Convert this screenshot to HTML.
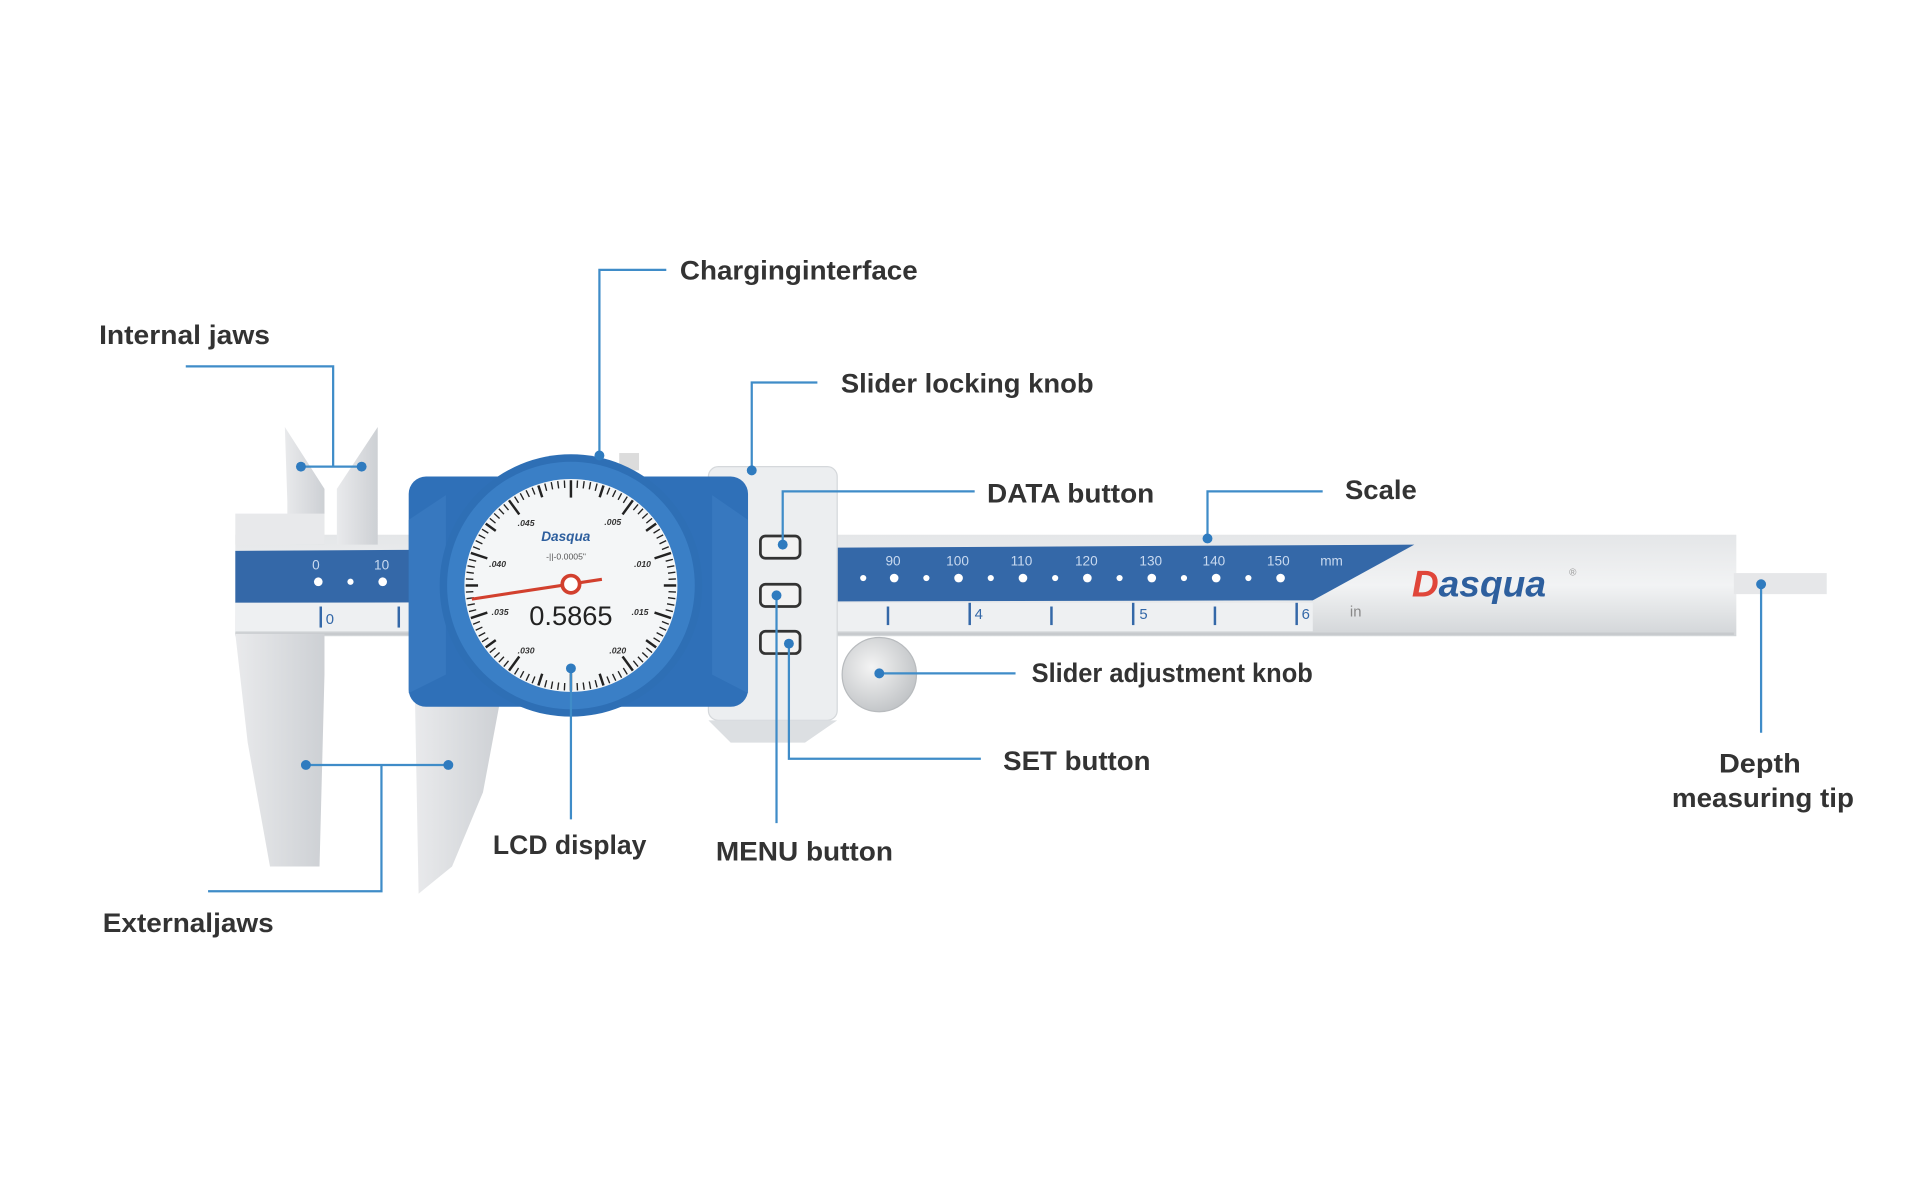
<!DOCTYPE html>
<html><head><meta charset="utf-8"><style>
html,body{margin:0;padding:0;background:#fff;width:1932px;height:1192px;overflow:hidden}
svg{display:block}
text{font-family:"Liberation Sans","DejaVu Sans",sans-serif}
.lb{font-size:22px;font-weight:bold;fill:#333}
.ln{stroke:#3f8cc8;stroke-width:1.8;fill:none}
.dt{fill:#2f7bbf}
</style></head><body>
<svg width="1932" height="1192" viewBox="0 0 1560 963" preserveAspectRatio="none">
<defs>
<linearGradient id="steel" x1="0" y1="0" x2="0" y2="1"><stop offset="0" stop-color="#e4e6e8"/><stop offset="0.5" stop-color="#f2f3f4"/><stop offset="1" stop-color="#d2d5d8"/></linearGradient>
<linearGradient id="jaw" x1="0" y1="0" x2="1" y2="0"><stop offset="0" stop-color="#e9eaec"/><stop offset="1" stop-color="#cdd0d4"/></linearGradient>
<radialGradient id="knob" cx="0.4" cy="0.4" r="0.7"><stop offset="0" stop-color="#f4f4f4"/><stop offset="1" stop-color="#bcbfc2"/></radialGradient>
</defs>
<!-- beam -->
<rect x="190" y="432" width="1212" height="82" fill="url(#steel)"/>
<rect x="1400" y="463" width="75" height="17" fill="#e6e7e9"/>
<polygon points="190,445 1142,440 1060,485 190,487" fill="#3468a8"/>
<rect x="190" y="487" width="870" height="23" fill="#eef0f2"/>
<line x1="190" y1="512" x2="1400" y2="512" stroke="#c7cacd" stroke-width="2"/>
<text x="1140" y="482" font-size="30" font-style="italic" font-weight="bold" fill="#e0463a">D<tspan fill="#2e5f9e">asqua</tspan></text>
<text x="1267" y="465" font-size="8" fill="#999">®</text>
<g font-size="11" fill="#c9daf0">
<text x="715" y="457">90</text><text x="764" y="457">100</text><text x="816" y="457">110</text><text x="868" y="457">120</text><text x="920" y="457">130</text><text x="971" y="457">140</text><text x="1023" y="457">150</text><text x="1066" y="457">mm</text>
<text x="252" y="460">0</text><text x="302" y="460">10</text>
</g>
<g fill="#fff">
<circle cx="697" cy="467" r="2.5"/><circle cx="722" cy="467" r="3.5"/><circle cx="748" cy="467" r="2.5"/><circle cx="774" cy="467" r="3.5"/><circle cx="800" cy="467" r="2.5"/><circle cx="826" cy="467" r="3.5"/><circle cx="852" cy="467" r="2.5"/><circle cx="878" cy="467" r="3.5"/><circle cx="904" cy="467" r="2.5"/><circle cx="930" cy="467" r="3.5"/><circle cx="956" cy="467" r="2.5"/><circle cx="982" cy="467" r="3.5"/><circle cx="1008" cy="467" r="2.5"/><circle cx="1034" cy="467" r="3.5"/>
<circle cx="257" cy="470" r="3.5"/><circle cx="283" cy="470" r="2.5"/><circle cx="309" cy="470" r="3.5"/>
</g>
<g stroke="#3468a8" stroke-width="2">
<line x1="717" y1="490" x2="717" y2="505"/><line x1="783" y1="487" x2="783" y2="505"/><line x1="849" y1="490" x2="849" y2="505"/><line x1="915" y1="487" x2="915" y2="505"/><line x1="981" y1="490" x2="981" y2="505"/><line x1="1047" y1="487" x2="1047" y2="505"/><line x1="259" y1="490" x2="259" y2="507"/><line x1="322" y1="490" x2="322" y2="507"/>
</g>
<g font-size="12" fill="#3468a8"><text x="787" y="500">4</text><text x="920" y="500">5</text><text x="1051" y="500">6</text><text x="1090" y="498" fill="#888">in</text><text x="263" y="504">0</text></g>
<!-- fixed jaw -->
<polygon points="230,345 262,395 262,440 232,440 232,405" fill="url(#jaw)"/>
<polygon points="190,415 262,415 262,440 190,440" fill="#e8e9eb"/>
<polygon points="190,512 262,512 262,545 258,700 218,700 200,600" fill="url(#jaw)"/>
<!-- moving jaw -->
<polygon points="305,345 272,395 272,440 305,440" fill="url(#jaw)"/>
<polygon points="335,560 405,560 390,640 365,700 338,722" fill="url(#jaw)"/>
<!-- slider right part -->
<rect x="572" y="377" width="104" height="205" rx="8" fill="#eceef0" stroke="#d5d8db"/>
<polygon points="572,582 676,582 650,600 590,600" fill="#dcdfe2"/>
<g fill="#f2f2f2" stroke="#333" stroke-width="2.2">
<rect x="614" y="433" width="32" height="18" rx="4"/><rect x="614" y="472" width="32" height="18" rx="4"/><rect x="614" y="510" width="32" height="18" rx="4"/>
</g>
<!-- knob -->
<circle cx="710" cy="545" r="30" fill="url(#knob)" stroke="#b8bbbe"/>
<!-- dial body -->
<rect x="500" y="366" width="16" height="14" fill="#dcdcdc"/>
<rect x="330" y="385" width="274" height="186" rx="14" fill="#2f70b8"/>
<polygon points="330,420 360,400 360,545 330,560" fill="#3a7cc2" opacity="0.7"/>
<polygon points="604,420 575,400 575,545 604,560" fill="#3a7cc2" opacity="0.7"/>
<circle cx="461" cy="473" r="106" fill="#2e6fb5"/>
<circle cx="461" cy="473" r="100" fill="#3a7fc6"/>
<circle cx="461" cy="473" r="86" fill="#f4f6f7"/>
<g id="ticks" stroke="#222"></g>
<g font-size="7" font-weight="bold" fill="#333" font-style="italic">
<text x="418" y="425">.045</text><text x="488" y="424">.005</text><text x="395" y="458">.040</text><text x="512" y="458">.010</text><text x="397" y="497">.035</text><text x="510" y="497">.015</text><text x="418" y="528">.030</text><text x="492" y="528">.020</text>
</g>
<text x="437" y="437" font-size="11" font-weight="bold" font-style="italic" fill="#2e5f9e">Dasqua</text>
<text x="441" y="452" font-size="7" fill="#555">-||-0.0005"</text>
<text x="461" y="505" font-size="22" fill="#222" text-anchor="middle">0.5865</text>
<line x1="381" y1="484" x2="486" y2="468" stroke="#d2402e" stroke-width="2.5"/>
<circle cx="461" cy="472" r="7" fill="#fff" stroke="#d2402e" stroke-width="3"/>
<!-- leaders -->
<g class="ln">
<polyline points="150,296 269,296 269,377"/><line x1="243" y1="377" x2="292" y2="377"/>
<polyline points="538,218 484,218 484,368"/>
<polyline points="660,309 607,309 607,380"/>
<polyline points="787,397 632,397 632,440"/>
<polyline points="1068,397 975,397 975,435"/>
<line x1="820" y1="544" x2="710" y2="544"/>
<polyline points="792,613 637,613 637,520"/>
<line x1="627" y1="665" x2="627" y2="481"/>
<line x1="461" y1="662" x2="461" y2="540"/>
<polyline points="168,720 308,720 308,618"/><line x1="247" y1="618" x2="362" y2="618"/>
<line x1="1422" y1="592" x2="1422" y2="472"/>
</g>
<g class="dt">
<circle cx="243" cy="377" r="4"/><circle cx="292" cy="377" r="4"/><circle cx="484" cy="368" r="4"/><circle cx="607" cy="380" r="4"/><circle cx="632" cy="440" r="4"/><circle cx="975" cy="435" r="4"/><circle cx="710" cy="544" r="4"/><circle cx="637" cy="520" r="4"/><circle cx="627" cy="481" r="4"/><circle cx="461" cy="540" r="4"/><circle cx="247" cy="618" r="4"/><circle cx="362" cy="618" r="4"/><circle cx="1422" cy="472" r="4"/>
</g>
<!-- labels -->
<text class="lb" x="80" y="278" textLength="138" lengthAdjust="spacingAndGlyphs">Internal jaws</text>
<text class="lb" x="549" y="226" textLength="192" lengthAdjust="spacingAndGlyphs">Charginginterface</text>
<text class="lb" x="679" y="317" textLength="204" lengthAdjust="spacingAndGlyphs">Slider locking knob</text>
<text class="lb" x="797" y="406" textLength="135" lengthAdjust="spacingAndGlyphs">DATA button</text>
<text class="lb" x="1086" y="403" textLength="58" lengthAdjust="spacingAndGlyphs">Scale</text>
<text class="lb" x="833" y="551" textLength="227" lengthAdjust="spacingAndGlyphs">Slider adjustment knob</text>
<text class="lb" x="810" y="622" textLength="119" lengthAdjust="spacingAndGlyphs">SET button</text>
<text class="lb" x="1388" y="624" textLength="66" lengthAdjust="spacingAndGlyphs">Depth</text>
<text class="lb" x="1350" y="652" textLength="147" lengthAdjust="spacingAndGlyphs">measuring tip</text>
<text class="lb" x="578" y="695" textLength="143" lengthAdjust="spacingAndGlyphs">MENU button</text>
<text class="lb" x="398" y="690" textLength="124" lengthAdjust="spacingAndGlyphs">LCD display</text>
<text class="lb" x="83" y="753" textLength="138" lengthAdjust="spacingAndGlyphs">Externaljaws</text>
</svg>
<script>
var g=document.getElementById('ticks'),s='';
for(var i=0;i<100;i++){var a=i*Math.PI*2/100,l=(i%10==0)?14:(i%5==0?10:6),r1=85,r2=r1-l;
var x1=461+r1*Math.sin(a),y1=473-r1*Math.cos(a),x2=461+r2*Math.sin(a),y2=473-r2*Math.cos(a);
s+='<line x1="'+x1.toFixed(1)+'" y1="'+y1.toFixed(1)+'" x2="'+x2.toFixed(1)+'" y2="'+y2.toFixed(1)+'" stroke-width="'+(i%5==0?2:1.1)+'"/>';}
g.innerHTML=s;
</script>
</body></html>
